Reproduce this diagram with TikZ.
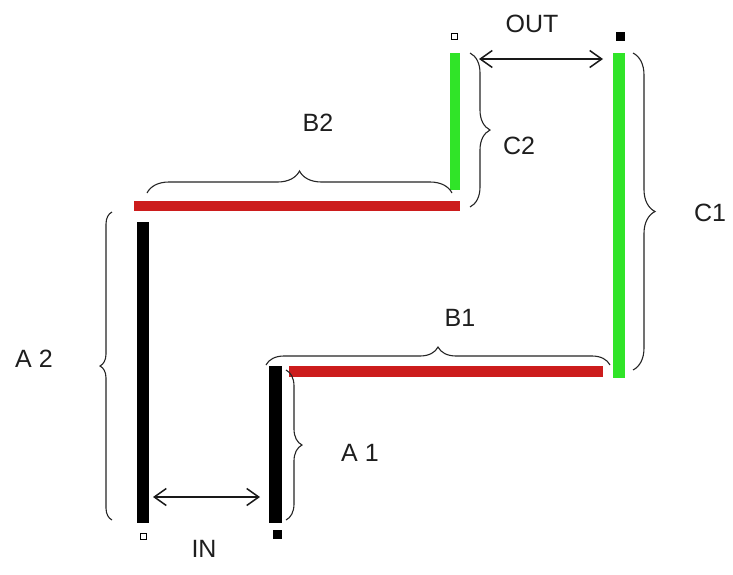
\documentclass[tikz,border=0pt]{standalone}
\usepackage{fontspec}
\setmainfont{Liberation Sans}
\usetikzlibrary{decorations.pathreplacing,arrows.meta}
\definecolor{barred}{RGB}{204,28,28}
\definecolor{bargreen}{RGB}{48,228,40}
\definecolor{txt}{RGB}{30,30,30}
\tikzset{
  lbl/.style={font=\fontsize{25}{28}\selectfont, text=txt, inner sep=0pt},
  brc/.style={decorate, decoration={brace, amplitude=#1}, draw=black!85, line width=1.1pt},
  dimarrow/.style={{Straight Barb[length=12pt,width=17pt]}-{Straight Barb[length=12pt,width=17pt]}, line width=1.5pt, draw=black!90},
  opensq/.style={draw=black, line width=1pt, fill=white, minimum size=6pt, inner sep=0pt},
  fillsq/.style={fill=black, minimum size=9pt, inner sep=0pt}
}
\begin{document}
\begin{tikzpicture}[x=1pt,y=-1pt]
\useasboundingbox[fill=white] (0,0) rectangle (733,574);
% bars
\fill[black] (137,222) rectangle (149,523);   % A2
\fill[barred] (134,201) rectangle (460,211);  % B2
\fill[bargreen] (450,53) rectangle (460,190); % C2
\fill[bargreen] (613,53) rectangle (625,378); % C1
\fill[barred] (289,366) rectangle (603,377);  % B1
\fill[black] (269,366) rectangle (282,523);   % A1
% end markers
\node[opensq] (sqA2) at (143,536) {};
\node[fillsq] (sqA1) at (277,534) {};
\node[opensq] (sqC2) at (454,36) {};
\node[fillsq] (sqC1) at (620,36) {};
% braces
\draw[brc=12pt] (112,520) -- (112,212);
\draw[brc=16pt] (286,370) -- (286,520);
\draw[brc=18pt] (266,365) -- (610,365);
\draw[brc=22pt] (147,193) -- (452,193);
\draw[brc=20pt] (470,53) -- (470,207);
\draw[brc=22pt] (633,53) -- (633,370);
% arrows
\coordinate (inL) at (153,497);
\coordinate (inR) at (260,497);
\coordinate (outL) at (479,59);
\coordinate (outR) at (603,59);
\draw[dimarrow] (inL) -- (inR);
\draw[dimarrow] (outL) -- (outR);
% labels
\node[lbl] (tOUT) at (532,24) {OUT};
\node[lbl] (tIN) at (204,549) {IN};
\node[lbl] (tA2) at (34,359) {A 2};
\node[lbl] (tA1) at (360,453) {A 1};
\node[lbl] (tB1) at (460,318) {B1};
\node[lbl] (tB2) at (318,123) {B2};
\node[lbl] (tC1) at (710,213) {C1};
\node[lbl] (tC2) at (519,146) {C2};
\end{tikzpicture}
\end{document}
